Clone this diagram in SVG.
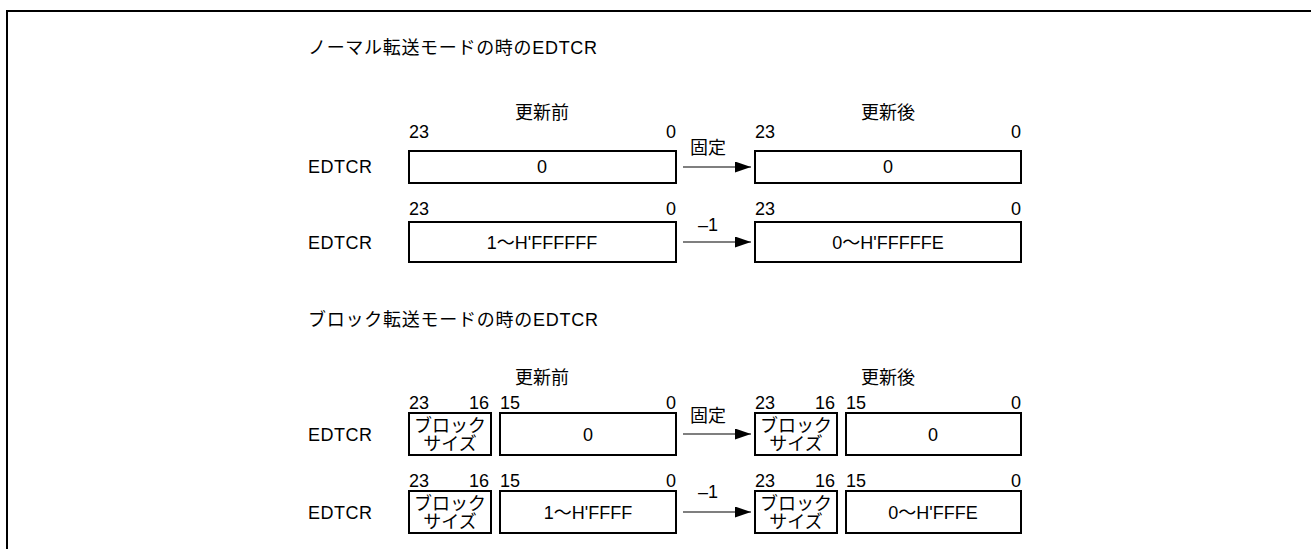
<svg xmlns="http://www.w3.org/2000/svg" width="1311" height="549" viewBox="0 0 1311 549">
<style>
text{font-family:"Liberation Sans","Noto Sans CJK JP",sans-serif;font-size:18px;fill:#000}
.m{text-anchor:middle}
.e{text-anchor:end}
.box{fill:#fff;stroke:#000;stroke-width:2}
.conn{stroke:#000;stroke-width:1.2;fill:none}
</style>
<defs>
<marker id="ah" markerUnits="userSpaceOnUse" markerWidth="17" markerHeight="12" refX="16" refY="5.5" orient="auto">
<path d="M0,0 L16,5.5 L0,11 Z" fill="#000"/>
</marker>
</defs>
<path d="M7,549 V11 H1311" fill="none" stroke="#000" stroke-width="2"/>

<text x="308" y="54" textLength="289" lengthAdjust="spacing">ノーマル転送モードの時のEDTCR</text>
<text class="m" x="542" y="119">更新前</text>
<text class="m" x="888" y="119">更新後</text>

<g id="n1-label"><text x="308" y="173" textLength="64" lengthAdjust="spacing">EDTCR</text></g>
<g id="n1-before">
<text x="409" y="138">23</text><text class="e" x="676" y="138">0</text>
<rect class="box" x="409" y="151" width="267" height="32"/>
<text class="m" x="542" y="173">0</text>
</g>
<g id="n1-after">
<text x="755" y="138">23</text><text class="e" x="1021" y="138">0</text>
<rect class="box" x="755" y="151" width="266" height="32"/>
<text class="m" x="888" y="173">0</text>
</g>

<g id="n2-label"><text x="308" y="249" textLength="64" lengthAdjust="spacing">EDTCR</text></g>
<g id="n2-before">
<text x="409" y="215">23</text><text class="e" x="676" y="215">0</text>
<rect class="box" x="409" y="222" width="267" height="40"/>
<text class="m" x="542" y="249">1～H'FFFFFF</text>
</g>
<g id="n2-after">
<text x="755" y="215">23</text><text class="e" x="1021" y="215">0</text>
<rect class="box" x="755" y="222" width="266" height="40"/>
<text class="m" x="888" y="249">0～H'FFFFFE</text>
</g>

<text x="308" y="326" textLength="290" lengthAdjust="spacing">ブロック転送モードの時のEDTCR</text>
<text class="m" x="542" y="384">更新前</text>
<text class="m" x="888" y="384">更新後</text>

<g id="n3-label"><text x="308" y="441" textLength="64" lengthAdjust="spacing">EDTCR</text></g>
<g id="n3-before">
<text x="409" y="409">23</text><text class="e" x="489" y="409">16</text>
<text x="500" y="409">15</text><text class="e" x="676" y="409">0</text>
<rect class="box" x="409" y="413" width="82" height="42"/>
<text class="m" x="450" y="432">ブロック</text>
<text class="m" x="450" y="450">サイズ</text>
<rect class="box" x="500" y="413" width="176" height="42"/>
<text class="m" x="588" y="441">0</text>
</g>
<g id="n3-after">
<text x="755" y="409">23</text><text class="e" x="835" y="409">16</text>
<text x="846" y="409">15</text><text class="e" x="1021" y="409">0</text>
<rect class="box" x="755" y="413" width="82" height="42"/>
<text class="m" x="796" y="432">ブロック</text>
<text class="m" x="796" y="450">サイズ</text>
<rect class="box" x="846" y="413" width="175" height="42"/>
<text class="m" x="933" y="441">0</text>
</g>

<g id="n4-label"><text x="308" y="519" textLength="64" lengthAdjust="spacing">EDTCR</text></g>
<g id="n4-before">
<text x="409" y="487">23</text><text class="e" x="489" y="487">16</text>
<text x="500" y="487">15</text><text class="e" x="676" y="487">0</text>
<rect class="box" x="409" y="491" width="82" height="42"/>
<text class="m" x="450" y="510">ブロック</text>
<text class="m" x="450" y="528">サイズ</text>
<rect class="box" x="500" y="491" width="176" height="42"/>
<text class="m" x="588" y="519">1～H'FFFF</text>
</g>
<g id="n4-after">
<text x="755" y="487">23</text><text class="e" x="835" y="487">16</text>
<text x="846" y="487">15</text><text class="e" x="1021" y="487">0</text>
<rect class="box" x="755" y="491" width="82" height="42"/>
<text class="m" x="796" y="510">ブロック</text>
<text class="m" x="796" y="528">サイズ</text>
<rect class="box" x="846" y="491" width="175" height="42"/>
<text class="m" x="933" y="519">0～H'FFFE</text>
</g>

<g id="connectors">
<line class="conn" x1="683" y1="167" x2="751" y2="167" marker-end="url(#ah)"/>
<text class="m" x="708" y="154">固定</text>
<line class="conn" x1="683" y1="242" x2="751" y2="242" marker-end="url(#ah)"/>
<text class="m" x="708" y="231">–1</text>
<line class="conn" x1="683" y1="434" x2="751" y2="434" marker-end="url(#ah)"/>
<text class="m" x="708" y="422">固定</text>
<line class="conn" x1="683" y1="512" x2="751" y2="512" marker-end="url(#ah)"/>
<text class="m" x="708" y="498">–1</text>
</g>
</svg>
